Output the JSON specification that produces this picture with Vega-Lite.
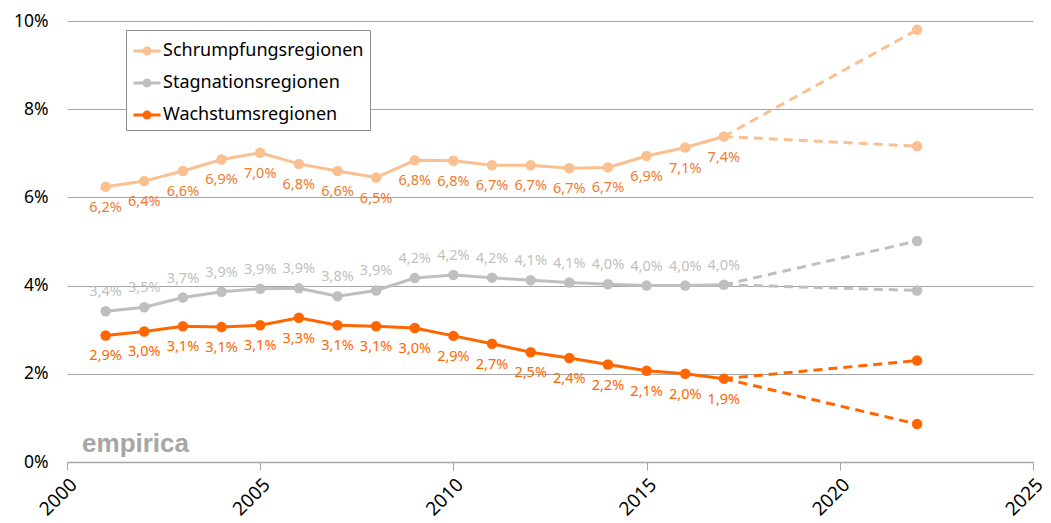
{
  "$schema": "https://vega.github.io/schema/vega-lite/v6.json",
  "width": 966,
  "height": 441,
  "autosize": "none",
  "padding": {"left": 67, "top": 21, "right": 18, "bottom": 61},
  "background": "white",
  "config": {
    "locale": {"number": {"decimal": ",", "thousands": ".", "grouping": [3], "currency": ["", " €"]}},
    "view": {"stroke": null},
    "font": "Noto Sans"
  },
  "datasets": {
    "hist": [
      {"year": 2001, "series": "Schrumpfungsregionen", "value": 0.0624},
      {"year": 2002, "series": "Schrumpfungsregionen", "value": 0.0637},
      {"year": 2003, "series": "Schrumpfungsregionen", "value": 0.0660},
      {"year": 2004, "series": "Schrumpfungsregionen", "value": 0.0686},
      {"year": 2005, "series": "Schrumpfungsregionen", "value": 0.0701},
      {"year": 2006, "series": "Schrumpfungsregionen", "value": 0.0676},
      {"year": 2007, "series": "Schrumpfungsregionen", "value": 0.0660},
      {"year": 2008, "series": "Schrumpfungsregionen", "value": 0.0645},
      {"year": 2009, "series": "Schrumpfungsregionen", "value": 0.0684},
      {"year": 2010, "series": "Schrumpfungsregionen", "value": 0.0683},
      {"year": 2011, "series": "Schrumpfungsregionen", "value": 0.0673},
      {"year": 2012, "series": "Schrumpfungsregionen", "value": 0.0673},
      {"year": 2013, "series": "Schrumpfungsregionen", "value": 0.0666},
      {"year": 2014, "series": "Schrumpfungsregionen", "value": 0.0668},
      {"year": 2015, "series": "Schrumpfungsregionen", "value": 0.0694},
      {"year": 2016, "series": "Schrumpfungsregionen", "value": 0.0713},
      {"year": 2017, "series": "Schrumpfungsregionen", "value": 0.0738},
      {"year": 2001, "series": "Stagnationsregionen", "value": 0.0342},
      {"year": 2002, "series": "Stagnationsregionen", "value": 0.0351},
      {"year": 2003, "series": "Stagnationsregionen", "value": 0.0373},
      {"year": 2004, "series": "Stagnationsregionen", "value": 0.0386},
      {"year": 2005, "series": "Stagnationsregionen", "value": 0.0393},
      {"year": 2006, "series": "Stagnationsregionen", "value": 0.0394},
      {"year": 2007, "series": "Stagnationsregionen", "value": 0.0376},
      {"year": 2008, "series": "Stagnationsregionen", "value": 0.0389},
      {"year": 2009, "series": "Stagnationsregionen", "value": 0.0417},
      {"year": 2010, "series": "Stagnationsregionen", "value": 0.0424},
      {"year": 2011, "series": "Stagnationsregionen", "value": 0.0418},
      {"year": 2012, "series": "Stagnationsregionen", "value": 0.0412},
      {"year": 2013, "series": "Stagnationsregionen", "value": 0.0407},
      {"year": 2014, "series": "Stagnationsregionen", "value": 0.0403},
      {"year": 2015, "series": "Stagnationsregionen", "value": 0.0400},
      {"year": 2016, "series": "Stagnationsregionen", "value": 0.0400},
      {"year": 2017, "series": "Stagnationsregionen", "value": 0.0402},
      {"year": 2001, "series": "Wachstumsregionen", "value": 0.0287},
      {"year": 2002, "series": "Wachstumsregionen", "value": 0.0296},
      {"year": 2003, "series": "Wachstumsregionen", "value": 0.0308},
      {"year": 2004, "series": "Wachstumsregionen", "value": 0.0306},
      {"year": 2005, "series": "Wachstumsregionen", "value": 0.0310},
      {"year": 2006, "series": "Wachstumsregionen", "value": 0.0327},
      {"year": 2007, "series": "Wachstumsregionen", "value": 0.0310},
      {"year": 2008, "series": "Wachstumsregionen", "value": 0.0308},
      {"year": 2009, "series": "Wachstumsregionen", "value": 0.0304},
      {"year": 2010, "series": "Wachstumsregionen", "value": 0.0286},
      {"year": 2011, "series": "Wachstumsregionen", "value": 0.0268},
      {"year": 2012, "series": "Wachstumsregionen", "value": 0.0249},
      {"year": 2013, "series": "Wachstumsregionen", "value": 0.0236},
      {"year": 2014, "series": "Wachstumsregionen", "value": 0.0221},
      {"year": 2015, "series": "Wachstumsregionen", "value": 0.0207},
      {"year": 2016, "series": "Wachstumsregionen", "value": 0.0200},
      {"year": 2017, "series": "Wachstumsregionen", "value": 0.0189}
    ],
    "proj": [
      {"year": 2017, "series": "Schrumpfungsregionen", "scenario": "oben", "value": 0.0738},
      {"year": 2022, "series": "Schrumpfungsregionen", "scenario": "oben", "value": 0.0980},
      {"year": 2017, "series": "Schrumpfungsregionen", "scenario": "unten", "value": 0.0738},
      {"year": 2022, "series": "Schrumpfungsregionen", "scenario": "unten", "value": 0.0716},
      {"year": 2017, "series": "Stagnationsregionen", "scenario": "oben", "value": 0.0402},
      {"year": 2022, "series": "Stagnationsregionen", "scenario": "oben", "value": 0.0501},
      {"year": 2017, "series": "Stagnationsregionen", "scenario": "unten", "value": 0.0402},
      {"year": 2022, "series": "Stagnationsregionen", "scenario": "unten", "value": 0.0389},
      {"year": 2017, "series": "Wachstumsregionen", "scenario": "oben", "value": 0.0189},
      {"year": 2022, "series": "Wachstumsregionen", "scenario": "oben", "value": 0.0230},
      {"year": 2017, "series": "Wachstumsregionen", "scenario": "unten", "value": 0.0189},
      {"year": 2022, "series": "Wachstumsregionen", "scenario": "unten", "value": 0.0086}
    ],
    "brand": [
      {"year": 2000.39, "value": 0.0023, "text": "empirica"}
    ]
  },
  "encoding": {
    "x": {
      "field": "year", "type": "quantitative",
      "scale": {"domain": [2000, 2025], "nice": false, "zero": false},
      "axis": {
        "title": null, "values": [2000, 2005, 2010, 2015, 2020, 2025], "format": "d",
        "labelAngle": -45, "labelFontSize": 19, "labelColor": "#000000", "labelFont": "Noto Sans",
        "domainColor": "#a6a6a6", "domainWidth": 1.5, "tickColor": "#a6a6a6", "tickSize": 8, "tickWidth": 1,
        "grid": false, "labelPadding": 5, "labelOverlap": false, "labelFlush": false
      }
    },
    "y": {
      "field": "value", "type": "quantitative",
      "scale": {"domain": [0, 0.1], "nice": false},
      "axis": {
        "title": null, "values": [0, 0.02, 0.04, 0.06, 0.08, 0.1], "format": ".0%",
        "labelFontSize": 17.5, "labelColor": "#000000", "labelFont": "Noto Sans",
        "domain": false, "ticks": false, "labelPadding": 19,
        "grid": true, "gridColor": "#a6a6a6", "gridWidth": 1.2
      }
    },
    "color": {
      "field": "series", "type": "nominal",
      "scale": {"domain": ["Schrumpfungsregionen", "Stagnationsregionen", "Wachstumsregionen"], "range": ["#fac090", "#bfbfbf", "#ff6600"]},
      "legend": {
        "title": null, "orient": "none", "legendX": 59, "legendY": 9,
        "direction": "vertical",
        "fillColor": "white", "strokeColor": "#8c8c8c", "padding": 6,
        "labelFontSize": 18, "labelFont": "Noto Sans", "labelColor": "#000000", "labelLimit": 400,
        "rowPadding": 8, "labelOffset": 1,
        "symbolType": "M-1,0L1,0M-0.22,0A0.22,0.22,0,1,1,0.22,0A0.22,0.22,0,1,1,-0.22,0Z",
        "symbolSize": 729, "symbolStrokeWidth": 3, "symbolDash": [1, 0]
      }
    }
  },
  "layer": [
    {
      "data": {"name": "hist"},
      "mark": {"type": "line", "strokeWidth": 3, "point": {"size": 110, "filled": true, "opacity": 1}}
    },
    {
      "data": {"name": "proj"},
      "mark": {"type": "line", "strokeWidth": 3, "strokeDash": [9, 6]},
      "encoding": {
        "detail": {"field": "scenario"}
      }
    },
    {
      "data": {"name": "proj"},
      "transform": [{"filter": "datum.year == 2022"}],
      "mark": {"type": "circle", "size": 110, "opacity": 1}
    },
    {
      "data": {"name": "hist"},
      "transform": [{"filter": "datum.series == 'Schrumpfungsregionen'"}],
      "mark": {"type": "text", "dy": 21, "fontSize": 14.5, "font": "Noto Sans"},
      "encoding": {"color": {"value": "#ee7b30"}, "text": {"field": "value", "type": "quantitative", "format": ".1%"}}
    },
    {
      "data": {"name": "hist"},
      "transform": [{"filter": "datum.series == 'Stagnationsregionen'"}],
      "mark": {"type": "text", "dy": -19, "fontSize": 14.5, "font": "Noto Sans"},
      "encoding": {"color": {"value": "#bfbfbf"}, "text": {"field": "value", "type": "quantitative", "format": ".1%"}}
    },
    {
      "data": {"name": "hist"},
      "transform": [{"filter": "datum.series == 'Wachstumsregionen'"}],
      "mark": {"type": "text", "dy": 21, "fontSize": 14.5, "font": "Noto Sans"},
      "encoding": {"color": {"value": "#ff6600"}, "text": {"field": "value", "type": "quantitative", "format": ".1%"}}
    },
    {
      "data": {"name": "brand"},
      "mark": {"type": "text", "align": "left", "baseline": "alphabetic", "fontSize": 26, "fontWeight": "bold", "font": "Liberation Sans"},
      "encoding": {"color": {"value": "#a6a6a6"}, "text": {"field": "text"}}
    }
  ]
}
